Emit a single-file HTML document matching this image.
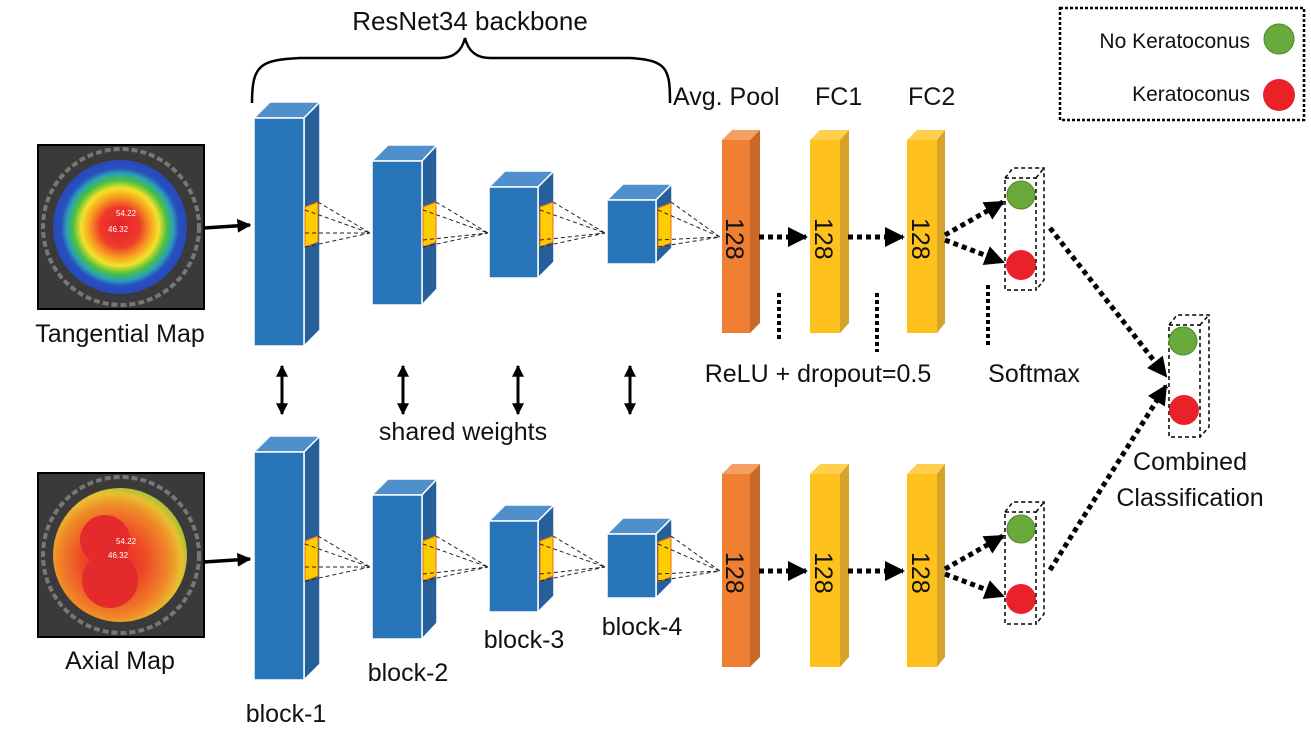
<!DOCTYPE html>
<html><head><meta charset="utf-8"><style>
html,body{margin:0;padding:0;background:#fff;}
svg{display:block;font-family:"Liberation Sans",sans-serif;}
</style></head><body>
<svg width="1311" height="735" viewBox="0 0 1311 735" xmlns="http://www.w3.org/2000/svg">
<defs>
<marker id="ah" viewBox="0 0 10 10" refX="9" refY="5" markerWidth="4" markerHeight="4" orient="auto"><path d="M0,0 L10,5 L0,10 z" fill="#000"/></marker>
<marker id="ah2" viewBox="0 0 10 10" refX="9" refY="5" markerWidth="4" markerHeight="4" orient="auto-start-reverse"><path d="M0,0 L10,5 L0,10 z" fill="#000"/></marker>
<radialGradient id="tg" cx="0.5" cy="0.5" r="0.5">
<stop offset="0" stop-color="#e8202a"/><stop offset="0.3" stop-color="#ee3a2a"/><stop offset="0.45" stop-color="#f89a20"/><stop offset="0.58" stop-color="#f4e22a"/><stop offset="0.7" stop-color="#4cc040"/><stop offset="0.8" stop-color="#2aa0b8"/><stop offset="0.88" stop-color="#2850c0"/><stop offset="1" stop-color="#2848b8"/></radialGradient>
<radialGradient id="ag" cx="0.45" cy="0.55" r="0.6">
<stop offset="0" stop-color="#e8202a"/><stop offset="0.4" stop-color="#ee4a28"/><stop offset="0.7" stop-color="#f08a28"/><stop offset="0.85" stop-color="#e8c030"/><stop offset="1" stop-color="#80c040"/></radialGradient>
<g id="net">
<polygon points="254,118 270,102 320,102 304,118" fill="#4f8fcb" stroke="#fff" stroke-width="1.5"/>
<polygon points="304,118 320,102 320,330 304,346" fill="#265f99" stroke="#fff" stroke-width="1.5"/>
<rect x="254" y="118" width="50" height="228" fill="#2874b8" stroke="#fff" stroke-width="1.5"/>
<polygon points="305,207 318,202 318,242 305,247" fill="#ffcc00" stroke="#e07020" stroke-width="1"/>
<polygon points="372,161 388,145 437,145 422,161" fill="#4f8fcb" stroke="#fff" stroke-width="1.5"/>
<polygon points="422,161 437,145 437,289 422,305" fill="#265f99" stroke="#fff" stroke-width="1.5"/>
<rect x="372" y="161" width="50" height="144" fill="#2874b8" stroke="#fff" stroke-width="1.5"/>
<polygon points="423,207 436,202 436,242 423,247" fill="#ffcc00" stroke="#e07020" stroke-width="1"/>
<polygon points="489,187 505,171 554,171 538,187" fill="#4f8fcb" stroke="#fff" stroke-width="1.5"/>
<polygon points="538,187 554,171 554,262 538,278" fill="#265f99" stroke="#fff" stroke-width="1.5"/>
<rect x="489" y="187" width="49" height="91" fill="#2874b8" stroke="#fff" stroke-width="1.5"/>
<polygon points="540,207 553,202 553,242 540,247" fill="#ffcc00" stroke="#e07020" stroke-width="1"/>
<polygon points="607,200 623,184 672,184 656,200" fill="#4f8fcb" stroke="#fff" stroke-width="1.5"/>
<polygon points="656,200 672,184 672,248 656,264" fill="#265f99" stroke="#fff" stroke-width="1.5"/>
<rect x="607" y="200" width="49" height="64" fill="#2874b8" stroke="#fff" stroke-width="1.5"/>
<polygon points="658,208 671,203 671,243 658,248" fill="#ffcc00" stroke="#e07020" stroke-width="1"/>
<g stroke="#222" stroke-width="1" stroke-dasharray="4,3" fill="none">
<path d="M305,210 L370,233 M318,202 L370,233 M305,233 L370,233 M305,247 L370,233"/>
<path d="M423,210 L488,233 M436,202 L488,233 M423,240 L488,233 M423,247 L488,233"/>
<path d="M540,210 L605,233 M553,202 L605,233 M540,240 L605,233 M540,247 L605,233"/>
<path d="M658,210 L720,237 M671,202 L720,237 M658,240 L720,237 M658,247 L720,237"/>
</g>
<polygon points="722,140 732,130 760,130 750,140" fill="#f5a060"/>
<polygon points="750,140 760,130 760,323 750,333" fill="#c8692a"/>
<rect x="722" y="140" width="28" height="193" fill="#ef7f32"/>
<polygon points="810,140 820,130 849,130 840,140" fill="#ffd050"/>
<polygon points="840,140 849,130 849,323 840,333" fill="#d6a32a"/>
<rect x="810" y="140" width="30" height="193" fill="#ffc11b"/>
<polygon points="907,140 917,130 945,130 937,140" fill="#ffd050"/>
<polygon points="937,140 945,130 945,323 937,333" fill="#d6a32a"/>
<rect x="907" y="140" width="30" height="193" fill="#ffc11b"/>
<g font-size="25" fill="#111">
<text transform="translate(726,218) rotate(90)">128</text>
<text transform="translate(815,218) rotate(90)">128</text>
<text transform="translate(912,218) rotate(90)">128</text>
</g>
<g stroke="#000" stroke-width="5" stroke-dasharray="5,4" fill="none">
<path d="M759,237 L806,237" marker-end="url(#ah)"/>
<path d="M848,237 L903,237" marker-end="url(#ah)"/>
<path d="M945,235 L1003,202" marker-end="url(#ah)"/>
<path d="M945,240 L1003,262" marker-end="url(#ah)"/>
</g>
<g stroke="#000" stroke-width="1.5" stroke-dasharray="4,3" fill="none">
<rect x="1005" y="178" width="31" height="112"/>
<path d="M1005,178 L1013,168 L1044,168 L1044,280 L1036,290 M1036,178 L1044,168"/>
</g>
<circle cx="1021" cy="195" r="14" fill="#6aaa3c" stroke="#4c8a2a"/>
<circle cx="1021" cy="265" r="15" fill="#e82228"/>
<path d="M204,228 L250,225" stroke="#000" stroke-width="3.5" marker-end="url(#ah)"/>
</g>
</defs>

<use href="#net"/>
<use href="#net" transform="translate(0,334)"/>

<rect x="38" y="145" width="166" height="164" fill="#3a3a3a" stroke="#000" stroke-width="2"/>
<circle cx="121" cy="227" r="78" fill="none" stroke="#777" stroke-width="4" stroke-dasharray="6,3"/>
<circle cx="120" cy="227" r="67" fill="url(#tg)"/>
<text x="116" y="216" font-size="8" fill="#fff">54.22</text>
<text x="108" y="232" font-size="8" fill="#fff">46.32</text>
<rect x="38" y="473" width="166" height="164" fill="#3a3a3a" stroke="#000" stroke-width="2"/>
<circle cx="121" cy="555" r="78" fill="none" stroke="#777" stroke-width="4" stroke-dasharray="6,3"/>
<circle cx="120" cy="555" r="67" fill="url(#ag)"/>
<circle cx="105" cy="540" r="25" fill="#e42a2a"/><circle cx="110" cy="580" r="28" fill="#e42a2a"/>
<text x="116" y="544" font-size="8" fill="#fff">54.22</text>
<text x="108" y="558" font-size="8" fill="#fff">46.32</text>

<g font-size="25" fill="#111">
<text x="470" y="30" text-anchor="middle" font-size="26">ResNet34 backbone</text>
<text x="673" y="105">Avg. Pool</text>
<text x="815" y="105">FC1</text>
<text x="908" y="105">FC2</text>
<text x="120" y="342" text-anchor="middle">Tangential Map</text>
<text x="120" y="669" text-anchor="middle">Axial Map</text>
<text x="463" y="440" text-anchor="middle">shared weights</text>
<text x="818" y="382" text-anchor="middle">ReLU + dropout=0.5</text>
<text x="1034" y="382" text-anchor="middle">Softmax</text>
<text x="1190" y="470" text-anchor="middle">Combined</text>
<text x="1190" y="506" text-anchor="middle">Classification</text>
<text x="286" y="722" text-anchor="middle">block-1</text>
<text x="408" y="681" text-anchor="middle">block-2</text>
<text x="524" y="648" text-anchor="middle">block-3</text>
<text x="642" y="635" text-anchor="middle">block-4</text>
</g>

<path d="M252,103 C252,65 260,60 300,58 L440,58 C455,58 462,50 465,38 C468,50 475,58 490,58 L630,58 C668,60 670,70 670,103" fill="none" stroke="#000" stroke-width="2.5"/>

<g stroke="#000" stroke-width="3" marker-start="url(#ah2)" marker-end="url(#ah)">
<path d="M282,366 L282,414"/>
<path d="M403,366 L403,414"/>
<path d="M518,366 L518,414"/>
<path d="M630,366 L630,414"/>
</g>

<g stroke="#000" stroke-width="4" stroke-dasharray="4,3">
<path d="M779,293 L779,342"/>
<path d="M877,293 L877,352"/>
<path d="M988,285 L988,346"/>
</g>

<g stroke="#000" stroke-width="5" stroke-dasharray="5,4" fill="none">
<path d="M1050,228 L1166,376" marker-end="url(#ah)"/>
<path d="M1050,570 L1166,386" marker-end="url(#ah)"/>
</g>
<g stroke="#000" stroke-width="1.5" stroke-dasharray="4,3" fill="none">
<rect x="1169" y="325" width="31" height="112"/>
<path d="M1169,325 L1177,315 L1209,315 L1209,427 L1200,437 M1200,325 L1209,315"/>
</g>
<circle cx="1183" cy="341" r="14" fill="#6aaa3c" stroke="#4c8a2a"/>
<circle cx="1184" cy="410" r="15" fill="#e82228"/>

<rect x="1060" y="8" width="244" height="112" fill="none" stroke="#000" stroke-width="2.5" stroke-dasharray="3,2"/>
<text x="1250" y="48" font-size="21" text-anchor="end" fill="#111">No Keratoconus</text>
<text x="1250" y="101" font-size="21" text-anchor="end" fill="#111">Keratoconus</text>
<circle cx="1279" cy="39" r="15" fill="#6aaa3c" stroke="#4c8a2a"/>
<circle cx="1279" cy="95" r="16" fill="#e82228"/>
</svg>
</body></html>
